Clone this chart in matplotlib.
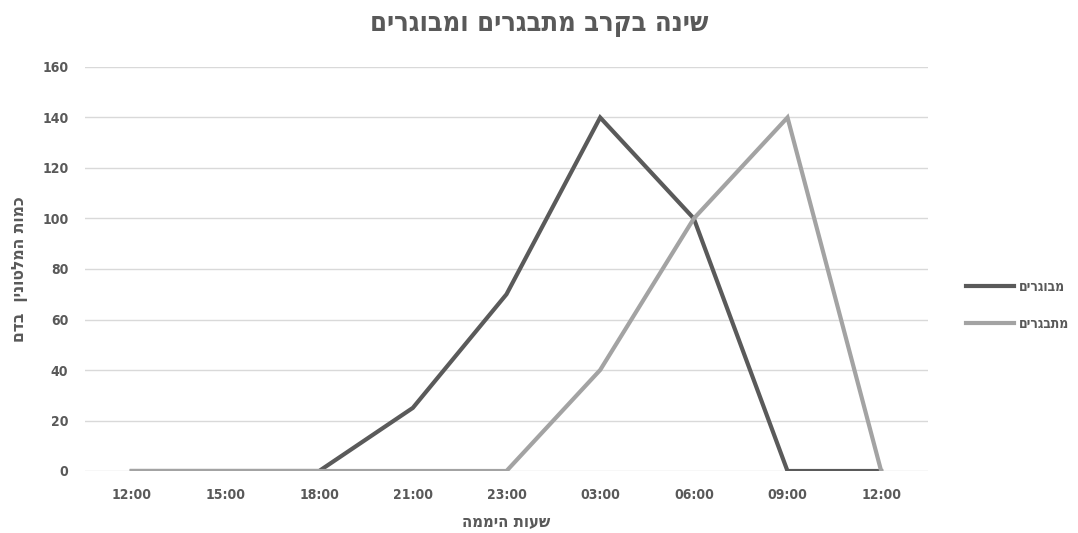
import matplotlib
matplotlib.use("Agg")
import matplotlib.pyplot as plt

# data
hours = ["12:00", "15:00", "18:00", "21:00", "23:00", "03:00", "06:00", "09:00", "12:00"]
adults = [0, 0, 0, 25, 70, 140, 100, 0, 0]
teens = [0, 0, 0, 0, 0, 40, 100, 140, 0]
yticks = [0, 20, 40, 60, 80, 100, 120, 140, 160]

title = "שינה בקרב מתבגרים ומבוגרים"
xlabel = "שעות היממה"
ylabel = "כמות המלטונין  בדם"
name_adults = "מבוגרים"
name_teens = "מתבגרים"


def heb(s):
    # matplotlib has no bidi, flip the hebrew by hand
    return s[::-1]


plt.rcParams['font.family'] = ['DejaVu Sans']
plt.rcParams['font.stretch'] = 'condensed'
plt.rcParams['font.weight'] = 'bold'
plt.rcParams['axes.labelweight'] = 'bold'

grey = "#595959"
fig = plt.figure(figsize=(10.78, 5.33), dpi=100)
ax = fig.add_axes([85 / 1078, 62 / 533, 843 / 1078, 404 / 533])

x = list(range(len(hours)))
ax.plot(x, adults, color="#5a5a5a", lw=3, label=heb(name_adults), solid_joinstyle="miter")
ax.plot(x, teens, color="#a3a3a3", lw=3, label=heb(name_teens), solid_joinstyle="miter")

ax.set_xlim(-0.5, len(hours) - 0.5)
ax.set_ylim(0, 160)
ax.set_yticks(yticks)
ax.set_xticks(x)
ax.set_xticklabels(hours)
ax.grid(axis="y", color="#d9d9d9", lw=1)
ax.set_axisbelow(True)
for s in ax.spines.values():
    s.set_visible(False)
ax.tick_params(length=0, labelsize=10, labelcolor=grey, pad=12)
ax.tick_params(axis="x", pad=12)

ax.set_xlabel(heb(xlabel), fontsize=12, color=grey, labelpad=8)
ax.set_ylabel(heb(ylabel), fontsize=12.5, color=grey, labelpad=10)
fig.text(0.5, 0.955, heb(title), ha="center", va="center", fontsize=19.5, color=grey)

leg = ax.legend(loc="center left", bbox_to_anchor=(1.03, 0.41), frameon=False,
                fontsize=10, handlelength=3.5, handletextpad=0.3, labelspacing=1.6,
                markerfirst=True)
for t in leg.get_texts():
    t.set_color(grey)

fig.savefig("out.png", dpi=100)
